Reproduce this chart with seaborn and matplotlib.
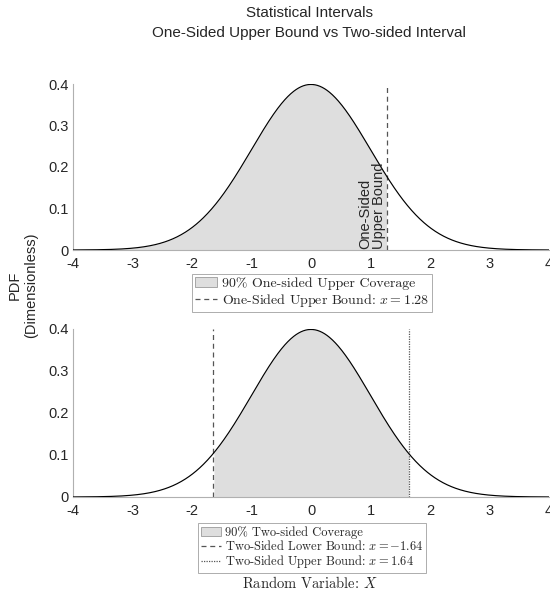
import numpy as np
import pandas as pd
import matplotlib
matplotlib.use("Agg")
import matplotlib.pyplot as plt
import seaborn as sns
from matplotlib.patches import Patch
from matplotlib.lines import Line2D

sns.set_style("white")
plt.rcParams["font.family"] = ["Liberation Sans", "DejaVu Sans"]
plt.rcParams["mathtext.fontset"] = "cm"
plt.rcParams["axes.formatter.use_mathtext"] = False

# Standard normal density and the interval bounds
mu, sigma = 0.0, 1.0
x_range = [-4, 4]
one_sided_upper = 1.28
two_sided_lower = -1.64
two_sided_upper = 1.64
x_ticks = [-4, -3, -2, -1, 0, 1, 2, 3, 4]
y_ticks = [0, 0.1, 0.2, 0.3, 0.4]
y_tick_labels = ["0", "0.1", "0.2", "0.3", "0.4"]

xs = np.linspace(x_range[0], x_range[1], 801)
pdf = np.exp(-0.5 * ((xs - mu) / sigma) ** 2) / (sigma * np.sqrt(2 * np.pi))
df = pd.DataFrame({"x": xs, "pdf": pdf})

FILL = "#dedede"
AX_GRAY = "#b0b0b0"
LINE_GRAY = "#555555"
TEXT = "#262626"
SERIF = "cmr10"

W, H = 550, 594
fig = plt.figure(figsize=(5.5, 5.94), dpi=100)
ax1 = fig.add_axes([73 / W, 1 - 250 / H, 476 / W, 166 / H])
ax2 = fig.add_axes([73 / W, 1 - 497 / H, 476 / W, 168 / H])
ax2.patch.set_visible(False)


def style_axes(ax):
    ax.set_xlim(*x_range)
    ax.set_ylim(0, 0.4)
    ax.set_xticks(x_ticks)
    ax.set_xticklabels([str(t) if t >= 0 else "-" + str(-t) for t in x_ticks])
    ax.set_yticks(y_ticks)
    ax.set_yticklabels(y_tick_labels)
    for s in ["top", "right"]:
        ax.spines[s].set_visible(False)
    for s in ["left", "bottom"]:
        ax.spines[s].set_color(AX_GRAY)
        ax.spines[s].set_linewidth(0.8)
    ax.tick_params(axis="both", direction="in", length=3, width=0.6,
                   color=AX_GRAY, labelsize=10.5, labelcolor=TEXT)
    ax.tick_params(axis="x", pad=5)
    ax.tick_params(axis="y", pad=3)
    ax.set_xlabel("")
    ax.set_ylabel("")


def legend_box(ax, handles, labels, top_px, size, spacing):
    # top_px: pixel distance of the legend's top edge below the axes bottom
    h_px = ax.get_position().height * H
    leg = ax.legend(
        handles=handles, labels=labels,
        loc="upper center", bbox_to_anchor=(239 / 476, -top_px / h_px), ncol=1,
        prop={"family": SERIF, "size": size}, frameon=True, fancybox=False,
        edgecolor="#a0a0a0", framealpha=1, handlelength=1.6, handletextpad=0.3,
        borderpad=0.25, labelspacing=spacing, borderaxespad=0)
    leg.get_frame().set_linewidth(0.6)
    leg.set_zorder(10)
    return leg


# Top panel: one-sided upper bound
m1 = df["x"] <= one_sided_upper
ax1.fill_between(df["x"][m1], 0, df["pdf"][m1], color=FILL, linewidth=0, zorder=1)
sns.lineplot(data=df, x="x", y="pdf", ax=ax1, color="black", linewidth=0.85, zorder=3)
ax1.axvline(one_sided_upper, ymin=0, ymax=1, color=LINE_GRAY, linestyle=(0, (4, 3)),
            linewidth=0.9, zorder=2)
ax1.text(one_sided_upper - 0.02, 0.003, "One-Sided\nUpper Bound", rotation=90,
         ha="right", va="bottom", fontsize=10.5, color=TEXT, multialignment="left",
         linespacing=1.0, zorder=4)
style_axes(ax1)
legend_box(
    ax1,
    [Patch(facecolor=FILL, edgecolor="#9a9a9a", linewidth=0.6),
     Line2D([0], [0], color=LINE_GRAY, linestyle=(0, (4, 3)), linewidth=0.9)],
    ["90% One-sided Upper Coverage", r"One-Sided Upper Bound: $x = 1.28$"],
    24, 10, 0.12)

# Bottom panel: two-sided interval
m2 = (df["x"] >= two_sided_lower) & (df["x"] <= two_sided_upper)
ax2.fill_between(df["x"][m2], 0, df["pdf"][m2], color=FILL, linewidth=0, zorder=1)
sns.lineplot(data=df, x="x", y="pdf", ax=ax2, color="black", linewidth=0.85, zorder=3)
ax2.axvline(two_sided_lower, color=LINE_GRAY, linestyle=(0, (4, 3)),
            linewidth=0.9, zorder=2)
ax2.axvline(two_sided_upper, color=LINE_GRAY, linestyle=(0, (1, 1)),
            linewidth=0.9, zorder=2)
style_axes(ax2)
legend_box(
    ax2,
    [Patch(facecolor=FILL, edgecolor="#9a9a9a", linewidth=0.6),
     Line2D([0], [0], color=LINE_GRAY, linestyle=(0, (4, 3)), linewidth=0.9),
     Line2D([0], [0], color=LINE_GRAY, linestyle=(0, (1, 1)), linewidth=0.9)],
    ["90% Two-sided Coverage", r"Two-Sided Lower Bound: $x = -1.64$",
     r"Two-Sided Upper Bound: $x = 1.64$"],
    26, 9, 0.02)

# Shared labels and title
fig.text(310 / W, 1 - 583 / H, r"Random Variable: $X$", ha="center",
         va="center", fontsize=10.5, family=SERIF, color=TEXT)
fig.text(23 / W, 1 - 285 / H, "PDF\n(Dimensionless)", rotation=90,
         ha="center", va="center", fontsize=10.5, color=TEXT,
         multialignment="center", linespacing=1.15)
fig.text(309 / W, 1 - 23 / H,
         "Statistical Intervals\nOne-Sided Upper Bound vs Two-sided Interval",
         ha="center", va="center", fontsize=11, color=TEXT, linespacing=1.6)

fig.savefig("out.png", dpi=100)
